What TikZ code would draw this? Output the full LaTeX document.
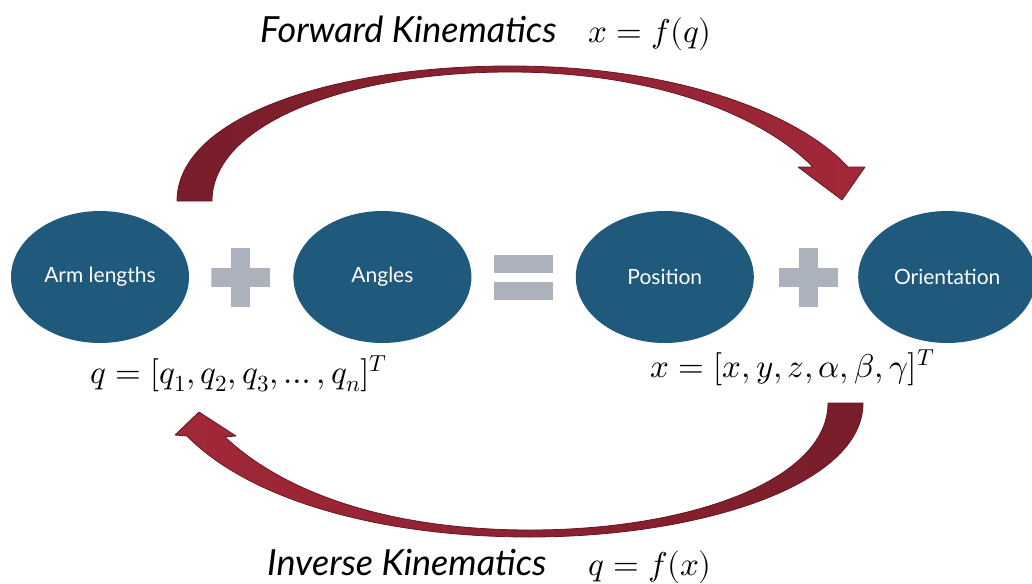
\documentclass[tikz,border=0pt]{standalone}
\usepackage{fontspec}
\usepackage{unicode-math}
\setmathfont{Latin Modern Math}
\newfontfamily\gillfont{Lato}
\usepackage{tikz}
\usetikzlibrary{positioning, shapes.geometric}
\definecolor{ellblue}{RGB}{31,89,124}
\definecolor{opgray}{RGB}{172,178,188}
\definecolor{arrowdark}{RGB}{120,29,42}
\definecolor{arrowlight}{RGB}{162,40,56}
\definecolor{arrowedge}{RGB}{104,22,33}

\begin{document}
\begin{tikzpicture}[x=1pt, y=-1pt,
  main/.style = {ellipse, fill=ellblue, minimum width=178pt, minimum height=132pt, inner sep=0pt, text=white, font=\gillfont\fontsize{21}{25}\selectfont},
  plusmark/.style = {minimum size=59pt, inner sep=0pt, path picture={
      \fill[opgray] ([xshift=-29.5pt,yshift=-9.5pt]path picture bounding box.center) rectangle ([xshift=29.5pt,yshift=9.5pt]path picture bounding box.center);
      \fill[opgray] ([xshift=-9.5pt,yshift=-29.5pt]path picture bounding box.center) rectangle ([xshift=9.5pt,yshift=29.5pt]path picture bounding box.center);}},
  equalmark/.style = {minimum size=59pt, inner sep=0pt, path picture={
      \fill[opgray] ([xshift=-29.5pt,yshift=4.5pt]path picture bounding box.center) rectangle ([xshift=29.5pt,yshift=22.5pt]path picture bounding box.center);
      \fill[opgray] ([xshift=-29.5pt,yshift=-22.5pt]path picture bounding box.center) rectangle ([xshift=29.5pt,yshift=-4.5pt]path picture bounding box.center);}},
  title/.style = {anchor=base west, inner sep=0pt, font=\gillfont\itshape\fontsize{36}{40}\selectfont},
  eqn/.style = {anchor=base west, inner sep=0pt, font=\fontsize{33}{38}\selectfont},
  fwdarrow/.style = {left color=arrowdark, right color=arrowlight, draw=arrowedge, line width=0.8pt, line join=round},
  invarrow/.style = {left color=arrowlight, right color=arrowdark, draw=arrowedge, line width=0.8pt, line join=round}]
        \clip (0,0) rectangle (1032,583);

        \node[main] (arm) at (100,277) {Arm lengths};
        \node[main] (ang) [right=104pt of arm] {Angles};
        \node[main] (pos) [right=104pt of ang] {Position};
        \node[main] (orient) [right=104pt of pos] {Orientation};
        \node[plusmark] (plus1) [right=22pt of arm] {};
        \node[equalmark] (equal) [right=22pt of ang] {};
        \node[plusmark] (plus2) [right=25pt of pos] {};

        % forward kinematics arrow
        \path[fwdarrow] (177,201) .. controls (177,118) and (330,66) .. (510,66)
            .. controls (680,66) and (800,115) .. (848,167) -- (865,167) -- (842,200) -- (798,167) -- (813,167)
            .. controls (765,118) and (660,72) .. (510,72)
            .. controls (345,72) and (212,125) .. (212,201) -- cycle;
        % inverse kinematics arrow
        \path[invarrow] (863,403) .. controls (863,485) and (700,537) .. (530,537)
            .. controls (380,537) and (250,500) .. (187,436) -- (175,435) -- (199,412) -- (236,436) -- (225,437)
            .. controls (290,498) and (400,530) .. (530,530)
            .. controls (690,530) and (828,480) .. (828,403) -- cycle;

        \node[title] (fwd) at (260,43) {Forward Kinematics};
        \node[eqn] (fwdeq) at (588,43) {$x = f(q)$};
        \node[title] (inv) at (267,575) {Inverse Kinematics};
        \node[eqn] (inveq) at (588,575) {$q = f(x)$};
        \node[eqn] (qvec) at (90,383) {$q = [q_1, q_2, q_3, \dots, q_n]^T$};
        \node[eqn] (xvec) at (650,377) {$x = [x, y, z, \alpha, \beta, \gamma]^T$};
    \end{tikzpicture}
\end{document}
